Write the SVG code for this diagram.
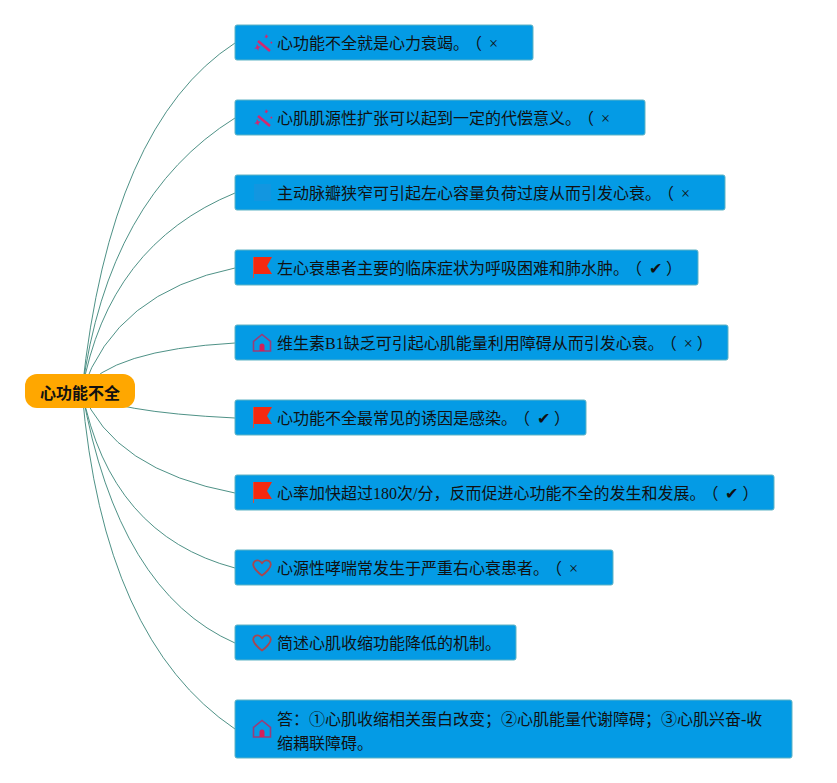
<svg xmlns="http://www.w3.org/2000/svg" width="837" height="783" viewBox="0 0 837 783">
<style>
text{font-family:"Liberation Serif","Noto Sans CJK SC",serif;font-size:16px;fill:#111}
.b{fill:#049be5;stroke:#5fb3c4;stroke-width:1}
.c{fill:none;stroke:#3a8578;stroke-width:.9}
.flag{fill:#f5290f}
.line{fill:none;stroke:#9a3c78;stroke-width:1.6}
.heart{fill:none;stroke:#a84650;stroke-width:1.8}
.m{fill:#d4286e}
.wand{stroke:#d4286e;stroke-width:2.6;fill:none}
</style>
<defs>
<g id="wand"><path class="wand" d="M-4 -2L8 8"/><path class="m" d="M-5 1l1.300 2.200 2.400.6-2 1.500-.4 2.500-1.500-2-2.500-.4 2-1.500zM4-9l.9 1.500 1.500.4-1.200 1.100-.2 1.500-1.100-1.100-1.500-.2 1.100-1.100zM9-2l.7 1 1 .3-.8.7-.2 1-.7-.8-1-.2.800-.7z"/></g>
<g id="flagI"><path class="flag" d="M-9 -10H10L5 -1L10 7H-9Z"/><path d="M-8.500 -10V11" stroke="#d9503a" stroke-width="1" fill="none"/></g>
<g id="houseI"><path class="line" d="M-8.500 8V-1.500L0 -8.500L8.500 -1.500V8Z"/><path d="M-2.500 8V3a2.500 2.500 0 0 1 5 0V8Z" fill="#d4205a"/></g>
<g id="heartI"><path class="heart" d="M0 7.500C-4 5-8.800-.5-8.800-3.500C-8.800-7-5.500-8.200-3.500-7.500C-1.800-6.900 0-4.800 0-4.800C0-4.800 1.800-6.900 3.500-7.500C5.500-8.200 8.800-7 8.800-3.500C8.800-.5 4 5 0 7.500Z"/></g>
</defs>
<g id="connectors">
<path class="c" d="M82 391Q110 124 235 43"/>
<path class="c" d="M82 391Q108 197 235 118"/>
<path class="c" d="M82 391Q108 245 235 193"/>
<path class="c" d="M82 391Q116 292 235 268"/>
<path class="c" d="M82 391Q110 350 235 343"/>
<path class="c" d="M82 391Q110 412 235 418"/>
<path class="c" d="M82 391Q113 470 235 493"/>
<path class="c" d="M82 391Q110 535 235 568"/>
<path class="c" d="M82 391Q118 592 235 643"/>
<path class="c" d="M82 391Q103 640 235 729"/>
</g>
<g id="root"><rect x="25" y="374" width="110" height="34" rx="12" fill="#ffa700"/><text x="80" y="399" text-anchor="middle" style="font-family:'Noto Sans CJK SC',sans-serif;font-weight:700">心功能不全</text></g>
<g id="n1"><rect class="b" x="235" y="25" width="298" height="35" rx="2"/><use href="#wand" x="262" y="43"/><text x="277" y="49">心功能不全就是心力衰竭。<tspan dx="5">（</tspan><tspan dx="3"> ×</tspan></text></g>
<g id="n2"><rect class="b" x="235" y="100" width="410" height="35" rx="2"/><use href="#wand" x="262" y="118"/><text x="277" y="124">心肌肌源性扩张可以起到一定的代偿意义。<tspan dx="5">（</tspan><tspan dx="3"> ×</tspan></text></g>
<g id="n3"><rect class="b" x="235" y="175" width="490" height="35" rx="2"/><rect x="254" y="184" width="17" height="17" fill="#1296e0"/><text x="277" y="199">主动脉瓣狭窄可引起左心容量负荷过度从而引发心衰。<tspan dx="5">（</tspan><tspan dx="3"> ×</tspan></text></g>
<g id="n4"><rect class="b" x="235" y="250" width="463" height="35" rx="2"/><use href="#flagI" x="262" y="267"/><text x="277" y="274">左心衰患者主要的临床症状为呼吸困难和肺水肿。<tspan dx="5">（</tspan><tspan dx="3"> ✔ ）</tspan></text></g>
<g id="n5"><rect class="b" x="235" y="325" width="493" height="35" rx="2"/><use href="#houseI" x="262" y="343"/><text x="277" y="349">维生素B1缺乏可引起心肌能量利用障碍从而引发心衰。<tspan dx="5">（</tspan><tspan dx="3"> × ）</tspan></text></g>
<g id="n6"><rect class="b" x="235" y="400" width="351" height="35" rx="2"/><use href="#flagI" x="262" y="417"/><text x="277" y="424">心功能不全最常见的诱因是感染。<tspan dx="5">（</tspan><tspan dx="3"> ✔ ）</tspan></text></g>
<g id="n7"><rect class="b" x="235" y="475" width="539" height="35" rx="2"/><use href="#flagI" x="262" y="492"/><text x="277" y="499">心率加快超过180次/分，反而促进心功能不全的发生和发展。<tspan dx="5">（</tspan><tspan dx="3"> ✔ ）</tspan></text></g>
<g id="n8"><rect class="b" x="235" y="550" width="378" height="35" rx="2"/><use href="#heartI" x="262" y="568"/><text x="277" y="574">心源性哮喘常发生于严重右心衰患者。<tspan dx="5">（</tspan><tspan dx="3"> ×</tspan></text></g>
<g id="n9"><rect class="b" x="235" y="625" width="281" height="35" rx="2"/><use href="#heartI" x="262" y="643"/><text x="277" y="649">简述心肌收缩功能降低的机制。</text></g>
<g id="n10"><rect class="b" x="235" y="700" width="557" height="58" rx="2"/><use href="#houseI" x="262" y="729"/><text x="277" y="725">答：①心肌收缩相关蛋白改变；②心肌能量代谢障碍；③心肌兴奋-收</text><text x="277" y="749">缩耦联障碍。</text></g>
</svg>
